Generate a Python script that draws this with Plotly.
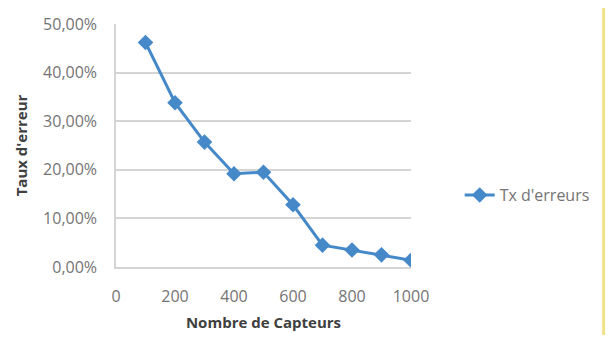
import plotly.graph_objects as go

# Error rate as a function of the number of sensors
capteurs = [100, 200, 300, 400, 500, 600, 700, 800, 900, 1000]
taux_erreur = [0.462, 0.338, 0.257, 0.192, 0.195, 0.128, 0.045, 0.035, 0.025, 0.014]
y_ticks = [0, 0.1, 0.2, 0.3, 0.4, 0.5]
x_ticks = [0, 200, 400, 600, 800, 1000]

blue = "#4589c9"
font_family = "'Open Sans', Lato, sans-serif"

fig = go.Figure()
fig.add_trace(go.Scatter(
    x=capteurs, y=taux_erreur, mode="lines+markers", name="Tx d'erreurs",
    line=dict(color=blue, width=3),
    marker=dict(symbol="diamond", size=12, color=blue),
))

fig.update_layout(
    width=609, height=342,
    margin=dict(l=116, r=198, t=24, b=75),
    paper_bgcolor="white", plot_bgcolor="white",
    separators=", ",
    font=dict(family=font_family, size=16, color="#747474"),
    xaxis=dict(
        range=[0, 1000], tickvals=x_ticks, showgrid=False, zeroline=False,
        showline=True, linecolor="#d4d4d4", linewidth=1.5,
        ticks="", ticklabelstandoff=14,
        title=dict(text="<b>Nombre de Capteurs</b>", standoff=12,
                   font=dict(size=15, color="#404040")),
    ),
    yaxis=dict(
        range=[0, 0.5], tickvals=y_ticks, tickformat=".2%",
        showgrid=True, gridcolor="#d4d4d4", gridwidth=1.5, zeroline=False,
        showline=True, linecolor="#d4d4d4", linewidth=1.5,
        ticks="", ticklabelstandoff=14,
        title=dict(text="<b>Taux d'erreur</b>", standoff=12,
                   font=dict(size=15, color="#404040")),
    ),
    showlegend=True,
    legend=dict(x=1.165, y=0.296, xanchor="left", yanchor="middle",
                bgcolor="rgba(0,0,0,0)", font=dict(size=16, color="#747474")),
    shapes=[dict(type="line", xref="paper", yref="paper",
                 x0=1.653, x1=1.653, y0=-0.28, y1=1.066,
                 line=dict(color="#efe38a", width=3))],
)

fig.write_html("out.html")
